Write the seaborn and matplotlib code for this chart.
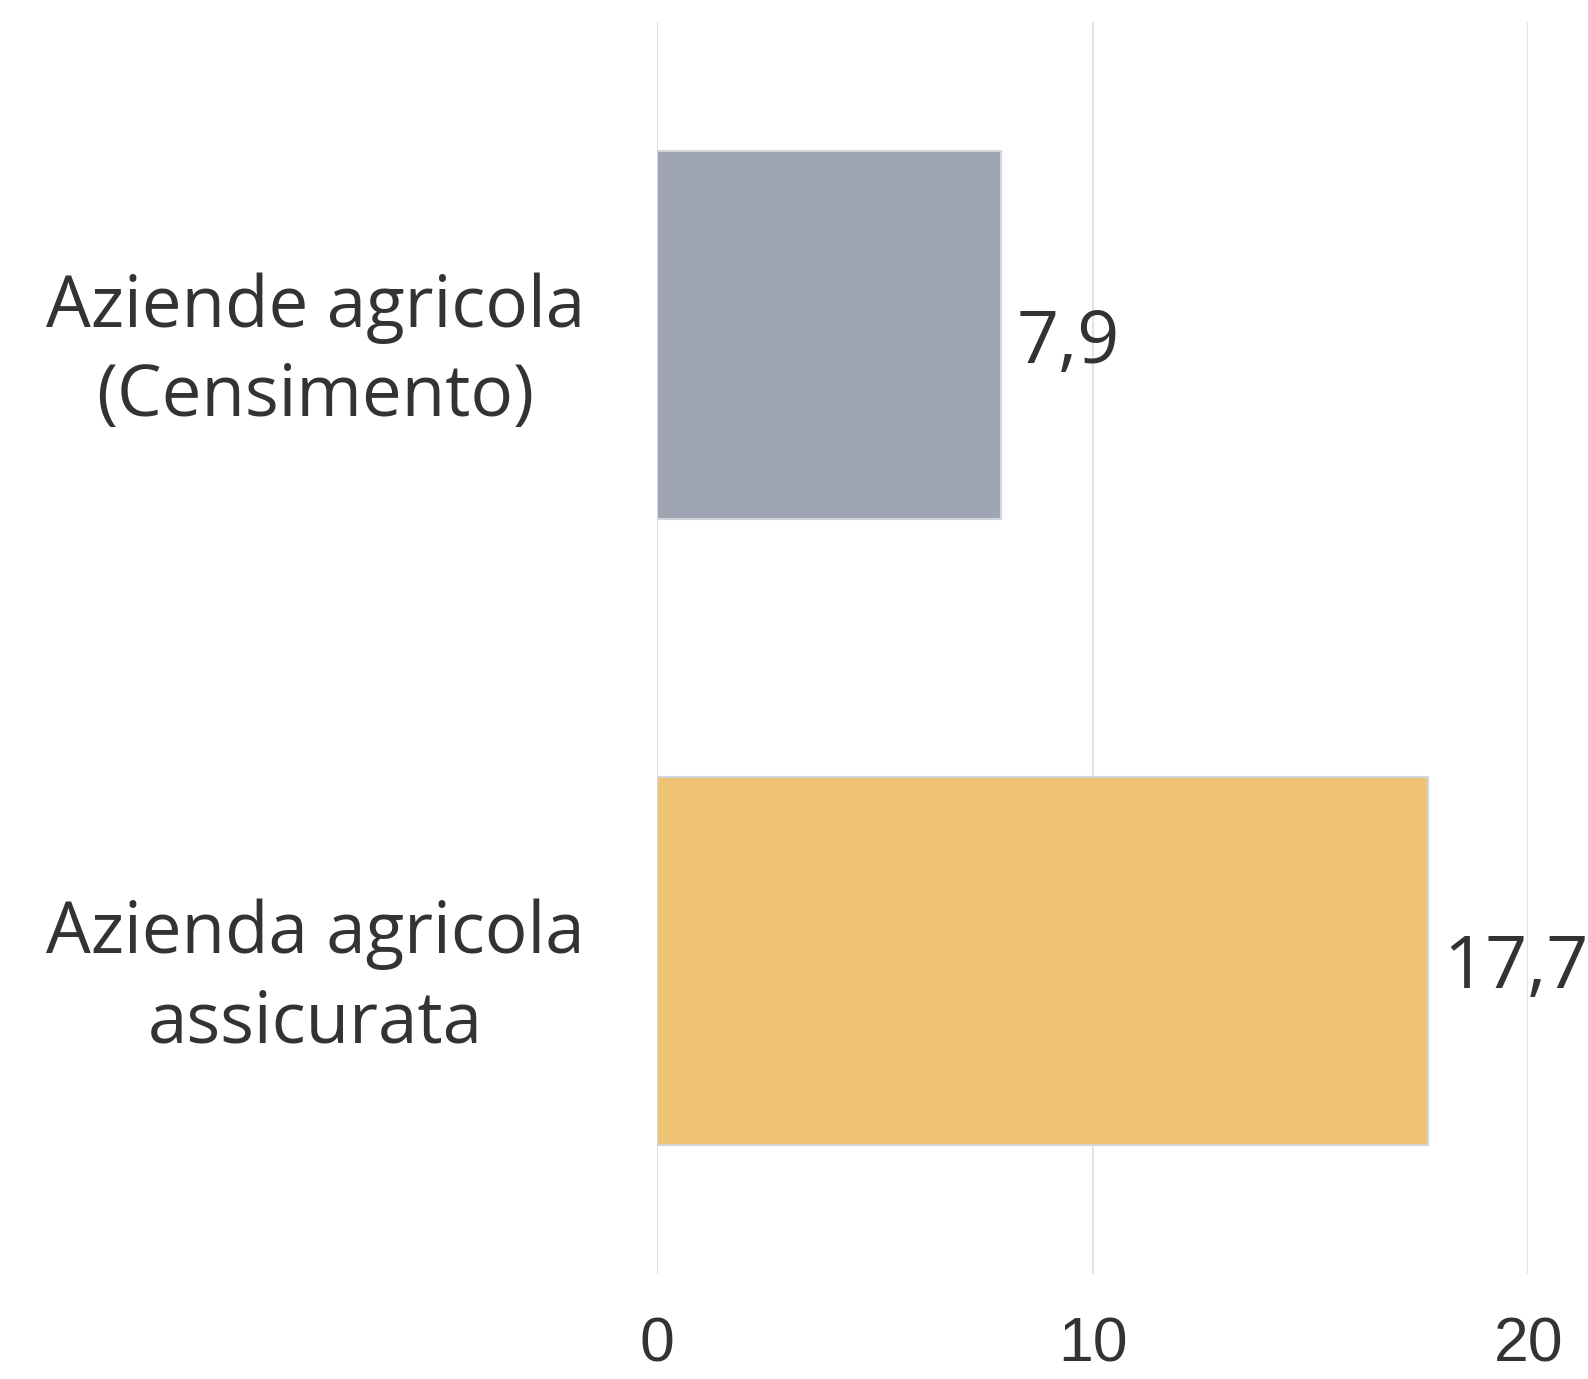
import seaborn as sns
import matplotlib.pyplot as plt
import pandas as pd

# dati
categorie = ["Aziende agricola\n(Censimento)", "Azienda agricola\nassicurata"]
valori = [7.9, 17.7]
etichette = ["7,9", "17,7"]
colori = ["#9EA4B1", "#EEC373"]
x_ticks = [0, 10, 20]

sns.set_style("white")
plt.rcParams["font.family"] = ["Open Sans", "DejaVu Sans"]

df = pd.DataFrame({"categoria": categorie, "valore": valori})

fig = plt.figure(figsize=(15.88, 13.79), dpi=100)
ax = fig.add_axes([0.4137, 0.0761, 0.9625 - 0.4137, 0.9838 - 0.0761])

sns.barplot(data=df, y="categoria", x="valore", hue="categoria", palette=colori,
            orient="h", width=0.588, edgecolor="#D3D5DC", linewidth=1.5,
            saturation=1, legend=False, ax=ax)

for i, (v, t) in enumerate(zip(valori, etichette)):
    ax.annotate(t, xy=(v, i), xytext=(11, -6), textcoords="offset points",
                ha="left", va="center", fontsize=53, color="#333333",
                annotation_clip=False)

ax.set_xlim(0, 20)
ax.set_ylim(1.5, -0.5)
ax.set_xticks(x_ticks)
ax.set_xticklabels([str(t) for t in x_ticks], family=["Liberation Sans", "DejaVu Sans"],
                   fontsize=45, color="#333333")
for lab in ax.get_yticklabels():
    lab.set_multialignment("center")
    lab.set_linespacing(1.33)
    lab.set_fontsize(51)
    lab.set_color("#333333")
ax.tick_params(axis="y", length=0, pad=52)
ax.tick_params(axis="x", length=0, pad=30)
ax.set_xlabel("")
ax.set_ylabel("")
ax.grid(axis="x", color="#E3E3E6", linewidth=1.5)
ax.set_axisbelow(True)
sns.despine(ax=ax, left=True, bottom=True)

fig.savefig("out.png", dpi=100)
